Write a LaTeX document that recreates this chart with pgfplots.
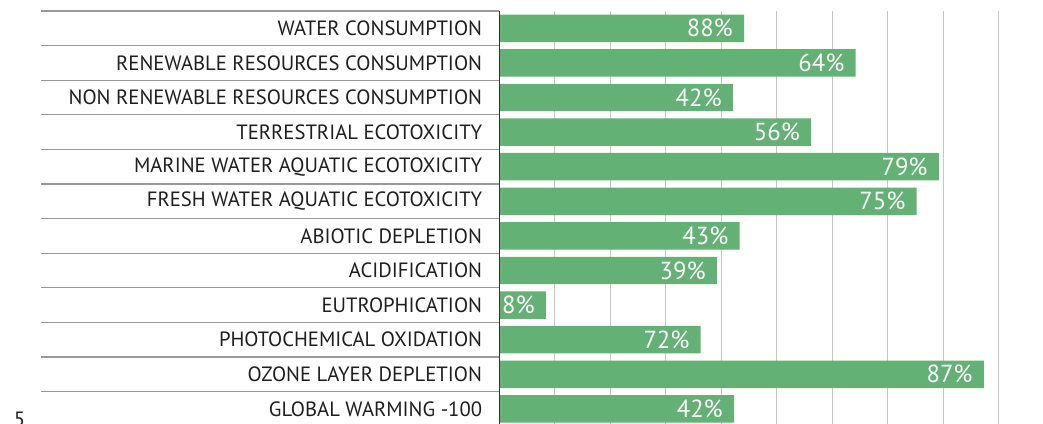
\documentclass[border=0pt]{standalone}
\usepackage{pgfplots}
\pgfplotsset{compat=1.18}
\usepackage{pgfplotstable}
\usepackage{fontspec}
\setmainfont{PT Sans}
\definecolor{bargreen}{RGB}{99,177,116}
\definecolor{labgray}{RGB}{30,30,30}
\pgfplotstableread[col sep=comma]{
y,val,lab
0,44.1,88
1,64.2,64
2,42.1,42
3,56.2,56
4,79.2,79
5,75.2,75
6,43.3,43
7,39.2,39
8,8.4,8
9,36.3,72
10,87.3,87
11,42.3,42
}\datatable

\begin{document}
\begin{tikzpicture}
\useasboundingbox (-374.5pt,8.25pt) rectangle (407.8pt,-309.75pt);
\begin{axis}[at={(0,0)}, anchor=north west, scale only axis,
  width=416.25pt, height=311.4pt,
  xmin=0, xmax=100, ymin=-0.5, ymax=11.5, y dir=reverse,
  xbar, bar width=20.6pt,
  xtick={10,20,...,90}, xticklabels={},
  xmajorgrids, major grid style={draw=black!22, line width=1pt},
  ytick={0,...,11},
  yticklabels={WATER CONSUMPTION, RENEWABLE RESOURCES CONSUMPTION, NON RENEWABLE RESOURCES CONSUMPTION, TERRESTRIAL ECOTOXICITY, MARINE WATER AQUATIC ECOTOXICITY, FRESH WATER AQUATIC ECOTOXICITY, ABIOTIC DEPLETION, ACIDIFICATION, EUTROPHICATION, PHOTOCHEMICAL OXIDATION, OZONE LAYER DEPLETION, GLOBAL WARMING -100},
  major tick length=0pt,
  yticklabel style={font=\fontsize{15.5}{18}\selectfont, text=labgray, inner sep=0pt, xshift=-12.75pt},
  axis line style={draw=none},
  clip=false,
  point meta=explicit symbolic,
  nodes near coords={\pgfplotspointmeta\%},
  nodes near coords align={anchor=east},
  every node near coord/.append style={text=white, font=\fontsize{18.5}{21}\selectfont, inner sep=0pt, xshift=-8.25pt},
]
\addplot[fill=bargreen, draw=none] table[x=val, y=y, meta=lab]{\datatable};
\pgfplotsinvokeforeach{-0.5,0.5,...,11.5}{
  \draw[draw=black!40, line width=0.9pt] ([xshift=-343.7pt]axis cs:0,#1) -- (axis cs:0,#1);
}
\draw[draw=black!80, line width=1.1pt] (axis cs:0,-0.5) -- (axis cs:0,11.5);
\end{axis}
\node[anchor=base, font=\fontsize{15.5}{18}\selectfont, text=labgray] at (-359.9pt,-312pt) {5};
\end{tikzpicture}
\end{document}
